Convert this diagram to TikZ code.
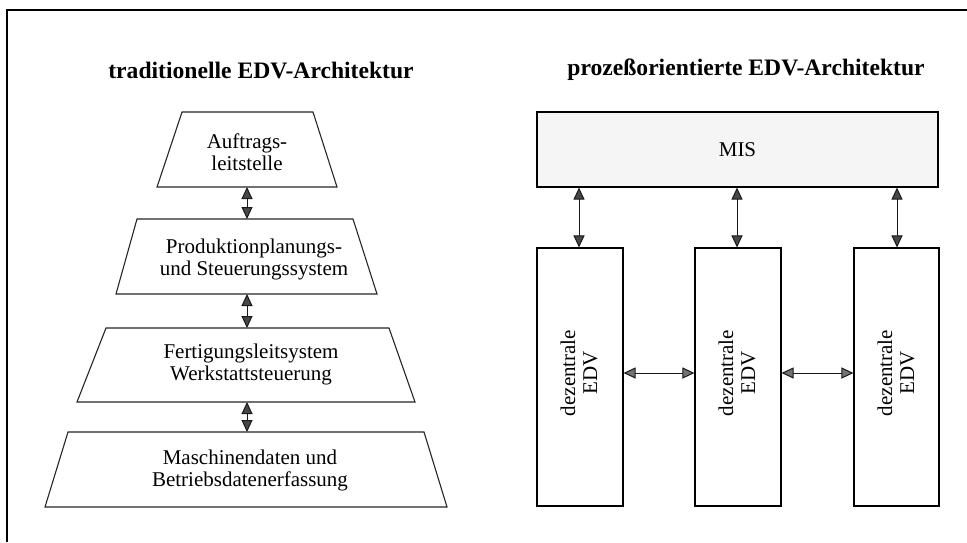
\documentclass[tikz,border=0pt]{standalone}
\usepackage{fontspec}
\setmainfont{Liberation Serif}
\usetikzlibrary{arrows.meta}
\begin{document}
\begin{tikzpicture}[x=1pt,y=-1pt,
  lighthead/.tip={Triangle[width=11pt,length=12pt,fill=black!55,line width=1pt]},
  darkhead/.tip={Triangle[width=11pt,length=12pt,fill=black!72,line width=1pt]},
  shape line/.style={line width=1.1pt, black!85},
  txt/.style={font=\fontsize{21}{22}\selectfont, align=center, inner sep=0pt},
  heading/.style={font=\fontsize{23.6}{26}\selectfont\bfseries, inner sep=0pt},
  link/.style={line width=1pt, black!90, lighthead-lighthead},
  downlink/.style={line width=1pt, black!90, darkhead-darkhead},
  unit/.style={draw, line width=1.1pt, minimum height=258pt, inner sep=0pt}]
\useasboundingbox (0,0) rectangle (967,542);
\fill[white] (0,0) rectangle (967,542);

% frame
\draw[line width=1.4pt] (7,542) -- (7,10) -- (967,10);

% headings
\node[heading] (hl) at (261,70) {traditionelle EDV-Architektur};
\node[heading] (hr) at (746,70) {prozeßorientierte EDV-Architektur};

% left: stacked trapezoids
\draw[shape line] (182,112) -- (313,112) -- (337,187) -- (157,187) -- cycle;
\draw[shape line] (137,219) -- (353,219) -- (377,294) -- (116,294) -- cycle;
\draw[shape line] (106,328) -- (389,328) -- (415,402) -- (77,402) -- cycle;
\draw[shape line] (68,432) -- (424,432) -- (447,507) -- (45,507) -- cycle;

\node[txt] (a1) at (247,152) {Auftrags-\\leitstelle};
\node[txt] (a2) at (254,259) {Produktionplanungs-\\und Steuerungssystem};
\node[txt] (a3) at (251,364) {Fertigungsleitsystem\\Werkstattsteuerung};
\node[txt] (a4) at (250,470) {Maschinendaten und\\Betriebsdatenerfassung};

\coordinate (t1b) at (247,187);
\coordinate (t2t) at (247,219);
\coordinate (t2b) at (247,294);
\coordinate (t3t) at (247,328);
\coordinate (t3b) at (247,402);
\coordinate (t4t) at (247,432);
\draw[downlink] (t1b) -- (t2t);
\draw[downlink] (t2b) -- (t3t);
\draw[downlink] (t3b) -- (t4t);

% right: MIS and decentral units
\node[draw, line width=1.1pt, fill=black!4, minimum width=401pt, minimum height=75pt,
      inner sep=0pt, font=\fontsize{21}{22}\selectfont] (mis) at (737.5,149.5) {MIS};

\node[unit, minimum width=86pt] (d1) at (580,377) {};
\node[unit, minimum width=86pt] (d2) at (738,377) {};
\node[unit, minimum width=85pt] (d3) at (896.5,377) {};

\node[txt, rotate=90] (l1) at (579,373) {dezentrale\\EDV};
\node[txt, rotate=90] (l2) at (737,373) {dezentrale\\EDV};
\node[txt, rotate=90] (l3) at (896,373) {dezentrale\\EDV};

\draw[downlink] (mis.south -| 579,0) -- (d1.north -| 579,0);
\draw[downlink] (mis.south -| 737,0) -- (d2.north -| 737,0);
\draw[downlink] (mis.south -| 897,0) -- (d3.north -| 897,0);

\draw[link] (d1.east |- 0,373) -- (d2.west |- 0,373);
\draw[link] (d2.east |- 0,373) -- (d3.west |- 0,373);
\end{tikzpicture}
\end{document}
